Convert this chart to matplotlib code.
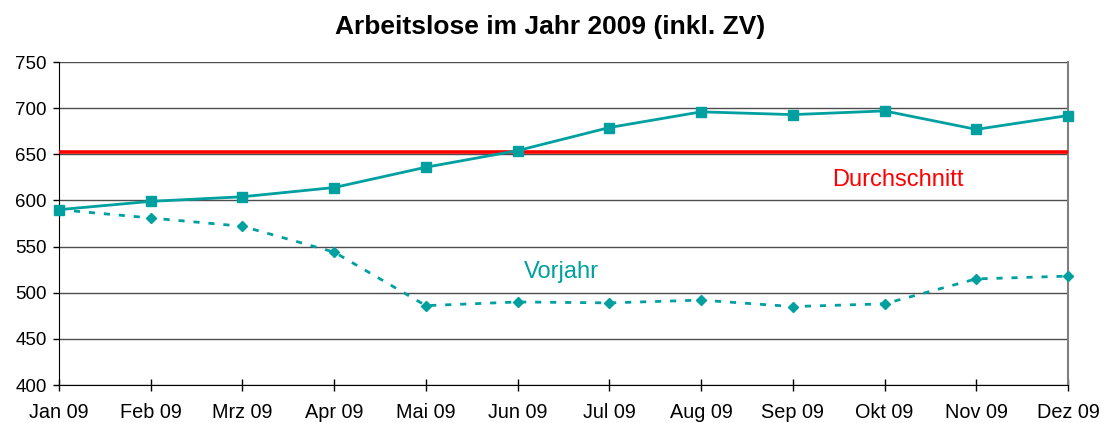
import matplotlib
matplotlib.use("Agg")
import matplotlib.pyplot as plt

plt.rcParams['font.family'] = ['Liberation Sans', 'DejaVu Sans']

months = ['Jan 09', 'Feb 09', 'Mrz 09', 'Apr 09', 'Mai 09', 'Jun 09',
          'Jul 09', 'Aug 09', 'Sep 09', 'Okt 09', 'Nov 09', 'Dez 09']
arbeitslose_2009 = [590, 599, 604, 614, 636, 654, 679, 696, 693, 697, 677, 692]
vorjahr = [590, 581, 572, 544, 486, 490, 489, 492, 485, 488, 515, 518]
durchschnitt = sum(arbeitslose_2009) / len(arbeitslose_2009)

TEAL = '#00A0A0'

fig = plt.figure(figsize=(11.01, 4.23), dpi=100)
ax = fig.add_axes([0.0536, 0.0898, 0.9164, 0.7636])

x = list(range(len(months)))

ax.set_ylim(400, 750)
ax.set_xlim(0, len(months) - 1)
ax.set_yticks(range(400, 751, 50))
ax.yaxis.grid(True, color='#4d4d4d', lw=1.0)
ax.set_axisbelow(True)

ax.axhline(durchschnitt, color='#ff0000', lw=2.6, zorder=3)
ax.plot(x, vorjahr, color=TEAL, lw=2.0, ls=(0, (2.2, 3.2)),
        marker='D', ms=5.5, zorder=4, clip_on=False)
ax.plot(x, arbeitslose_2009, color=TEAL, lw=2.0, marker='s', ms=6.5,
        zorder=5, clip_on=False)

ax.text(9.15, 622, 'Durchschnitt', color='#ff0000', fontsize=17,
        ha='center', va='center')
ax.text(5.48, 523, 'Vorjahr', color=TEAL, fontsize=17,
        ha='center', va='center')

ax.set_xticks(x)
ax.set_xticklabels(months)
ax.tick_params(axis='x', direction='inout', length=8, width=1, pad=9,
               labelsize=14.3)
ax.tick_params(axis='y', direction='out', length=4, width=1, pad=5,
               labelsize=13.5)

ax.spines['top'].set_visible(False)
ax.spines['right'].set_color('#808080')
ax.spines['right'].set_linewidth(1.5)
ax.spines['left'].set_color('black')
ax.spines['bottom'].set_color('black')

fig.suptitle('Arbeitslose im Jahr 2009 (inkl. ZV)', x=0.5, y=0.965,
             fontsize=19, fontweight='bold')

fig.savefig('out.png', dpi=100)
